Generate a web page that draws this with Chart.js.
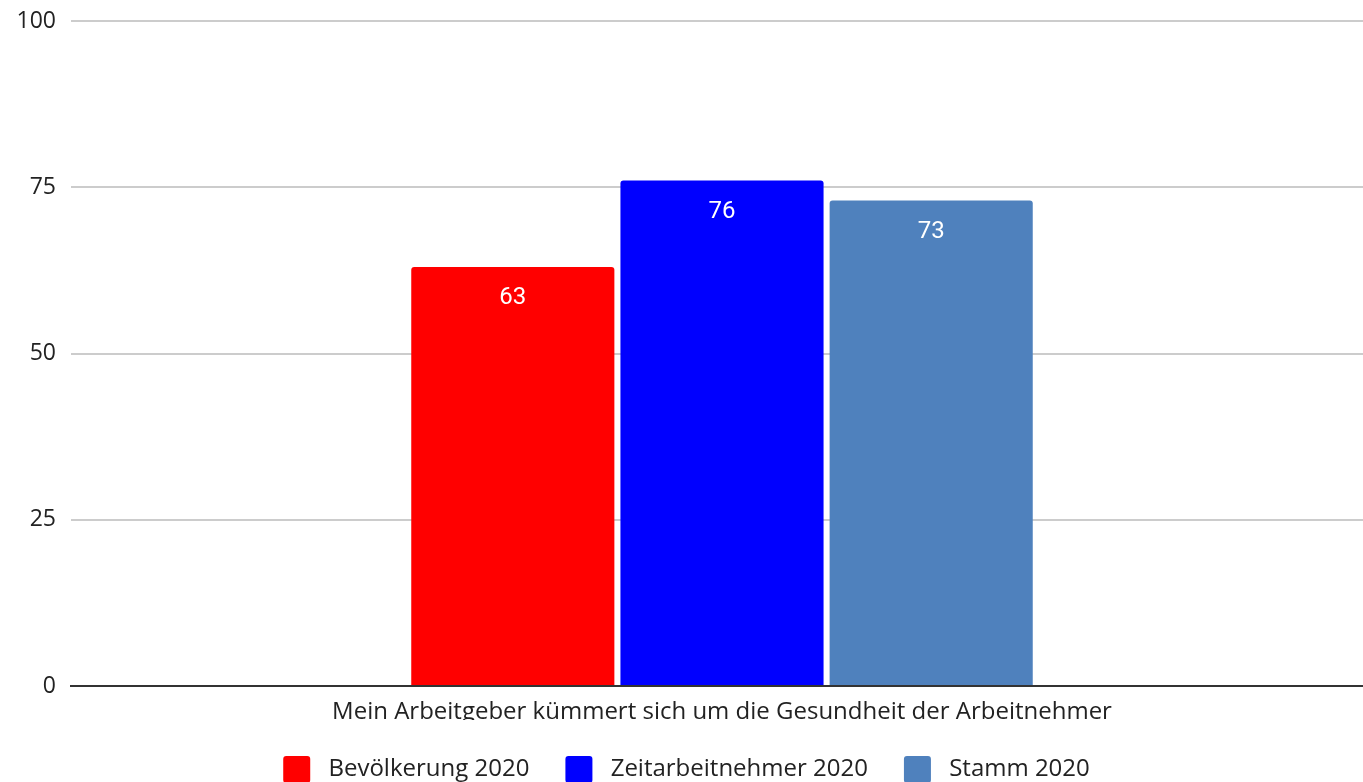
<!DOCTYPE html>
<html lang="de">
<head>
<meta charset="utf-8">
<title>Gesundheit der Arbeitnehmer</title>
<script src="https://cdn.jsdelivr.net/npm/chart.js@4/dist/chart.umd.min.js"></script>
<style>
  html, body { margin: 0; padding: 0; background: #fff; overflow: hidden; }
  #wrap { width: 1373px; height: 793px; position: relative; }
</style>
</head>
<body>
<div id="wrap"><canvas id="chart"></canvas></div>
<script>
const categories = ['Mein Arbeitgeber kümmert sich um die Gesundheit der Arbeitnehmer']
const seriesNames = ['Bevölkerung 2020', 'Zeitarbeitnehmer 2020', 'Stamm 2020']
const seriesValues = [[63], [76], [73]]
const seriesColors = ['#ff0000', '#0000ff', '#4f81bd']
const yTicks = [0, 25, 50, 75, 100]

const labelFont = '"Open Sans", "DejaVu Sans", sans-serif'

// white value labels just below each bar top
const valueLabels = {
  id: 'valueLabels',
  afterDatasetsDraw(chart) {
    const ctx = chart.ctx
    ctx.save()
    ctx.fillStyle = '#ffffff'
    ctx.font = '24px Roboto, sans-serif'
    ctx.textAlign = 'center'
    ctx.textBaseline = 'middle'
    chart.data.datasets.forEach((ds, i) => {
      chart.getDatasetMeta(i).data.forEach((bar, j) => {
        ctx.fillText(String(ds.data[j]), bar.x, bar.y + 31)
      })
    })
    ctx.restore()
  }
}

new Chart(document.getElementById('chart'), {
  type: 'bar',
  data: {
    labels: categories,
    datasets: seriesNames.map((name, i) => ({
      label: name,
      data: seriesValues[i],
      backgroundColor: seriesColors[i],
      borderWidth: 0,
      borderRadius: { topLeft: 3, topRight: 3 },
      borderSkipped: false,
      barPercentage: 0.971,
      categoryPercentage: 0.482
    }))
  },
  options: {
    responsive: true,
    maintainAspectRatio: false,
    animation: false,
    layout: { padding: 0 },
    plugins: {
      tooltip: { enabled: false },
      legend: {
        position: 'bottom',
        labels: {
          font: { family: labelFont, size: 24 },
          color: '#222',
          boxWidth: 27,
          boxHeight: 27,
          padding: 36,
          useBorderRadius: true,
          borderRadius: 3,
          // a little more room between swatch and text
          generateLabels(chart) {
            return Chart.defaults.plugins.legend.labels.generateLabels(chart)
              .map(item => ({ ...item, text: ' ' + item.text }))
          }
        }
      }
    },
    scales: {
      x: {
        afterFit(scale) { scale.height = 34 },
        grid: { display: false, drawTicks: false },
        border: { display: true, color: '#333', width: 2 },
        ticks: {
          font: { family: labelFont, size: 24 },
          color: '#222',
          padding: 12
        }
      },
      y: {
        min: 0,
        max: 100,
        afterBuildTicks(scale) {
          scale.ticks = yTicks.map(v => ({ value: v }))
        },
        afterFit(scale) {
          scale.width = 71
          scale.paddingTop = 21
        },
        grid: { color: '#cccccc', lineWidth: 2, drawTicks: false },
        border: { display: false },
        ticks: {
          font: { family: labelFont, size: 23 },
          color: '#222',
          padding: 15
        }
      }
    }
  },
  plugins: [valueLabels]
})
</script>
</body>
</html>
